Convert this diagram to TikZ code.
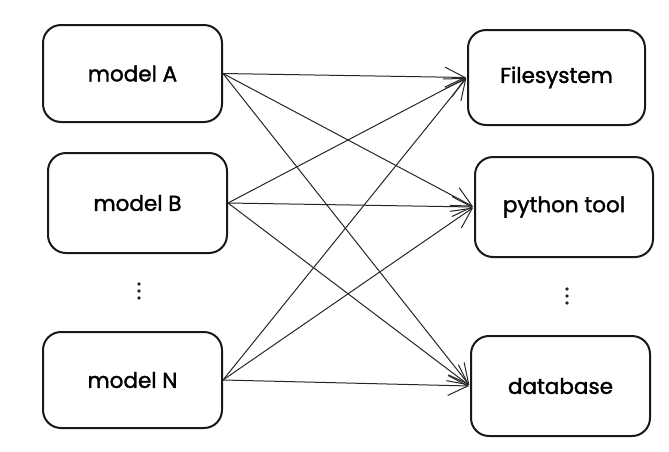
\documentclass[tikz,border=0pt]{standalone}
\usepackage{fontspec}
\setmainfont{Poppins}
\newfontfamily\handfont[RawFeature={embolden=1.6}]{Poppins}
\usetikzlibrary{arrows.meta}
\begin{document}
\begin{tikzpicture}[x=1pt,y=-1pt,
  box/.style={draw=black!90, line width=2pt, rounded corners=18pt, fill=white,
    inner sep=0pt, font=\handfont\fontsize{21.5}{24}\selectfont},
  conn/.style={draw=black!85, line width=1pt,
    -{Straight Barb[length=20pt,width=20pt,line width=1pt]}, shorten >=1pt},
  dot/.style={circle, fill=black!85, inner sep=0pt, minimum size=3.6pt}]
\useasboundingbox (0,0) rectangle (669,451);
\node[box, minimum width=179pt, minimum height=97pt] (A) at (132.5,73.5) {model A};
\node[box, minimum width=179pt, minimum height=100pt] (B) at (137.5,203) {model B};
\node[box, minimum width=179pt, minimum height=96pt] (N) at (132.5,380) {model N};
\node[box, minimum width=177pt, minimum height=95pt] (F) at (556.5,77.5) {Filesystem};
\node[box, minimum width=178pt, minimum height=100pt] (P) at (564,207) {python tool};
\node[box, minimum width=179pt, minimum height=100pt] (D) at (560.5,386) {database};
\foreach \s in {A,B,N}{
  \foreach \t in {F,P,D}{
    \draw[conn] (\s.east) -- (\t.west);
  }
}
\node[dot] (l1) at (139,284) {};
\node[dot] (l2) at (139,291) {};
\node[dot] (l3) at (139,298) {};
\node[dot] (r1) at (567,289) {};
\node[dot] (r2) at (567,296) {};
\node[dot] (r3) at (567,303) {};
\end{tikzpicture}
\end{document}
